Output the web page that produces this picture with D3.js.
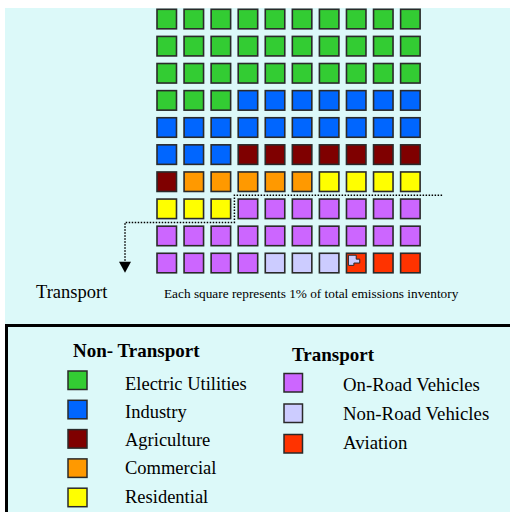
<!DOCTYPE html>
<html>
<head>
<meta charset="utf-8">
<script src="https://cdn.jsdelivr.net/npm/d3@7"></script>
<style>
  html, body { margin: 0; padding: 0; background: #ffffff; }
  svg { display: block; }
  text { font-family: "Liberation Serif", "Times New Roman", serif; fill: #000; }
</style>
</head>
<body>
<svg id="chart" width="510" height="512"></svg>
<script>
// ---- data ----
const nonTransportCategories = ["Electric Utilities", "Industry", "Agriculture", "Commercial", "Residential"];
const nonTransportValues = [33, 20, 8, 5, 7];
const nonTransportColors = ["#33cc33", "#0066ff", "#7f0000", "#ff9900", "#ffff00"];

const transportCategories = ["On-Road Vehicles", "Non-Road Vehicles", "Aviation"];
const transportValues = [21, 3, 3];
const transportColors = ["#cc66ff", "#ccccff", "#ff3300"];

const gridColumns = 10;
const gridRows = 10;
const partialCellCategory = "Aviation";   // first aviation square carries a sliver of non-road
const partialCellColor = "#ccccff";

const groupTitles = ["Non- Transport", "Transport"];
const caption = "Each square represents 1% of total emissions inventory";
const sideLabel = "Transport";

// ---- build cells ----
const allCats = nonTransportCategories.concat(transportCategories);
const allVals = nonTransportValues.concat(transportValues);
const allCols = nonTransportColors.concat(transportColors);
const cells = [];
allCats.forEach((c, ci) => {
  for (let k = 0; k < allVals[ci]; k++) {
    const idx = cells.length;
    cells.push({ cat: c, color: allCols[ci], idx, k, col: idx % gridColumns, row: Math.floor(idx / gridColumns) });
  }
});

const svg = d3.select("#chart");

// background
svg.append("rect").attr("x", 5).attr("y", 8).attr("width", 505).attr("height", 504).attr("fill", "#dcf9f9");

// ---- scales ----
const x = d3.scaleBand().domain(d3.range(gridColumns)).range([157, 420.1]).paddingInner(0.28).paddingOuter(0);
const y = d3.scaleBand().domain(d3.range(gridRows)).range([9.3, 272.8]).paddingInner(0.28).paddingOuter(0);
const bw = x.bandwidth(), bh = y.bandwidth();

// ---- squares ----
const g = svg.append("g");
g.selectAll("rect.cell").data(cells).join("rect")
  .attr("class", "cell")
  .attr("x", d => x(d.col)).attr("y", d => y(d.row))
  .attr("width", bw).attr("height", bh)
  .attr("fill", d => d.color)
  .attr("stroke", "#2a2a2a").attr("stroke-width", 1.6);

// partial marker in first aviation cell
const partial = cells.find(d => d.cat === partialCellCategory);
const frac = [[0.1,0.1],[0.5,0.1],[0.5,0.3],[0.68,0.3],[0.68,0.5],[0.38,0.5],[0.38,0.62],[0.1,0.62]];
g.append("path")
  .attr("d", d3.line()(frac.map(p => [x(partial.col) + p[0] * bw, y(partial.row) + p[1] * bh])) + "Z")
  .attr("fill", partialCellColor).attr("stroke", "#2a2a2a").attr("stroke-width", 1);

// ---- dotted separator and arrow ----
const firstTransport = cells.find(d => d.cat === transportCategories[0]);
const gapX = x(firstTransport.col) - (x.step() - bw) / 2;
const gapY1 = y(firstTransport.row) - (y.step() - bh) / 2;
const gapY2 = y(firstTransport.row + 1) - (y.step() - bh) / 2;
const rightX = x(gridColumns - 1) + bw + 22;
const arrowX = x(0) - 32;
const arrowTip = y(gridRows - 1) + bh;
svg.append("path")
  .attr("d", d3.line()([[rightX, gapY1], [gapX, gapY1], [gapX, gapY2], [arrowX, gapY2], [arrowX, arrowTip - 11]]))
  .attr("fill", "none").attr("stroke", "#000").attr("stroke-width", 1.5).attr("stroke-dasharray", "1.5,1.5");
svg.append("path")
  .attr("d", d3.line()([[arrowX - 6, arrowTip - 11], [arrowX + 6, arrowTip - 11], [arrowX, arrowTip]]) + "Z")
  .attr("fill", "#000");

// ---- texts ----
svg.append("text").attr("x", 36).attr("y", 298).attr("font-size", 18.5).text(sideLabel);
svg.append("text").attr("x", 164).attr("y", 297.5).attr("font-size", 13.3).text(caption);

// ---- legend box ----
svg.append("rect").attr("x", 6.5).attr("y", 325.5).attr("width", 520).attr("height", 220)
  .attr("fill", "none").attr("stroke", "#000").attr("stroke-width", 3);

svg.append("text").attr("x", 73).attr("y", 357).attr("font-size", 19).attr("font-weight", "bold").text(groupTitles[0]);
svg.append("text").attr("x", 292).attr("y", 361).attr("font-size", 19).attr("font-weight", "bold").text(groupTitles[1]);

const ly1 = d3.scaleLinear().domain([0, 1]).range([371, 400.3]);
const lt1 = d3.scaleLinear().domain([0, 1]).range([389.5, 417.8]);
const leg1 = svg.append("g");
leg1.selectAll("rect").data(nonTransportCategories).join("rect")
  .attr("x", 68).attr("y", (d, i) => ly1(i)).attr("width", 19).attr("height", 18.5)
  .attr("fill", (d, i) => nonTransportColors[i]).attr("stroke", "#2a2a2a").attr("stroke-width", 1.5);
leg1.selectAll("text").data(nonTransportCategories).join("text")
  .attr("x", 125).attr("y", (d, i) => lt1(i)).attr("font-size", 18.5).text(d => d);

const ly2 = d3.scaleLinear().domain([0, 1]).range([373.5, 404]);
const lt2 = d3.scaleLinear().domain([0, 1]).range([391, 420]);
const leg2 = svg.append("g");
leg2.selectAll("rect").data(transportCategories).join("rect")
  .attr("x", 284).attr("y", (d, i) => ly2(i)).attr("width", 18.5).attr("height", 18.5)
  .attr("fill", (d, i) => transportColors[i]).attr("stroke", "#2a2a2a").attr("stroke-width", 1.5);
leg2.selectAll("text").data(transportCategories).join("text")
  .attr("x", 343).attr("y", (d, i) => lt2(i)).attr("font-size", 18.8).text(d => d);
</script>
</body>
</html>
